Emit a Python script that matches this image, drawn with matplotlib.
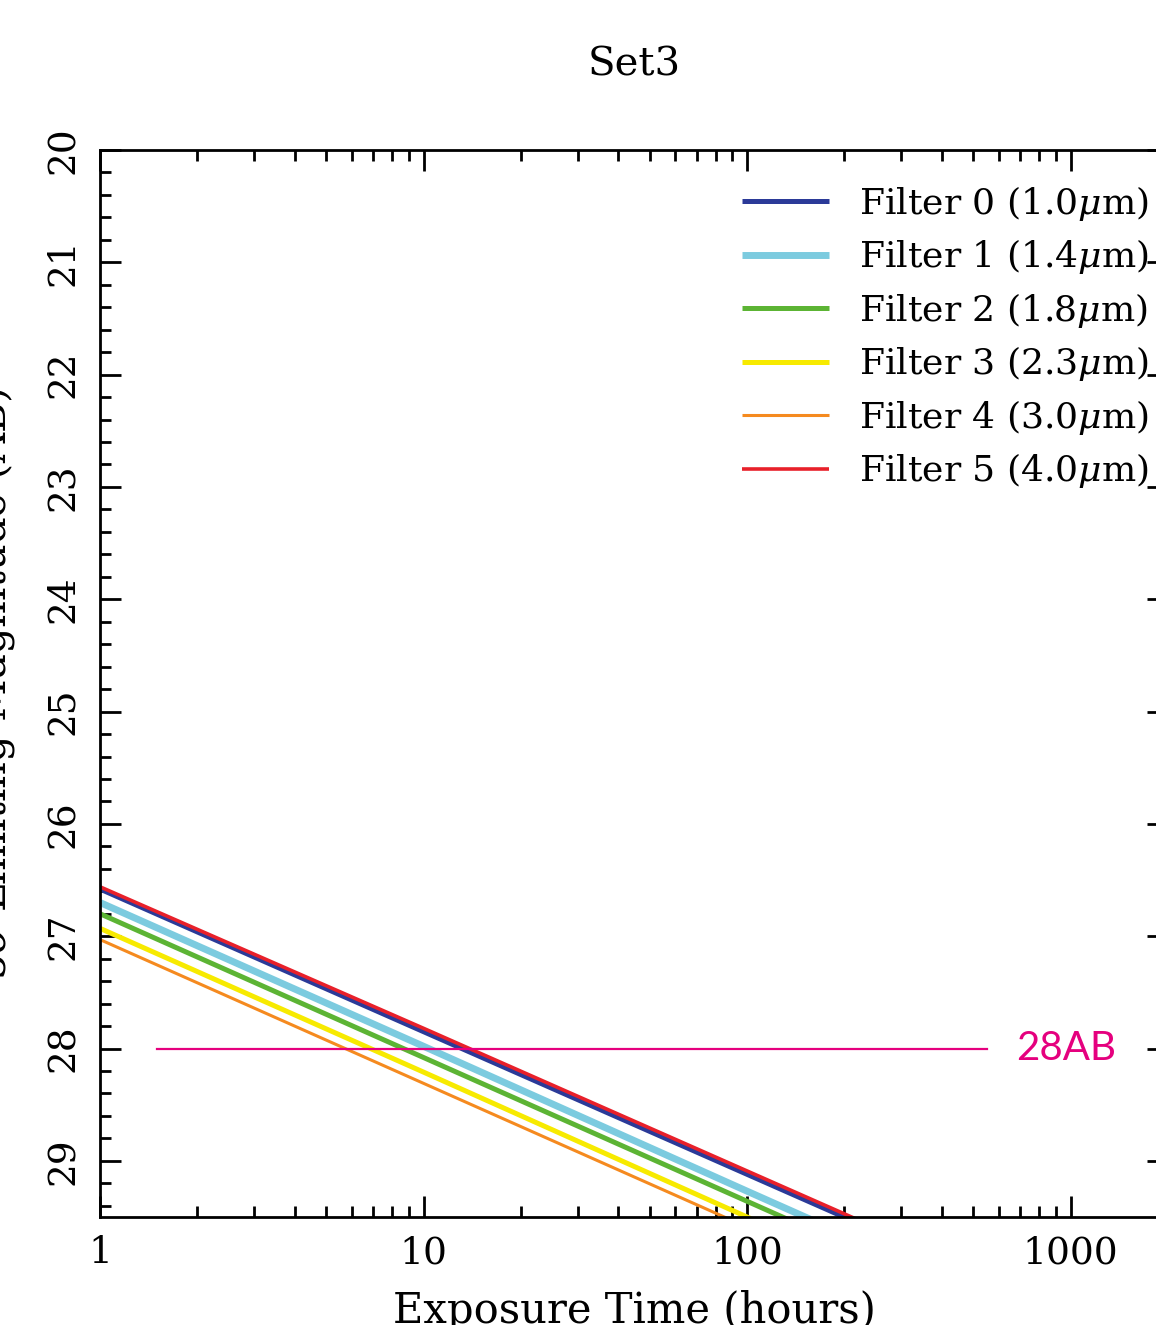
import numpy as np
import matplotlib
matplotlib.use("Agg")
import matplotlib.pyplot as plt
from matplotlib.ticker import FixedLocator, MultipleLocator, NullFormatter

plt.rcParams['font.family'] = 'DejaVu Serif'
plt.rcParams['mathtext.fontset'] = 'dejavuserif'

# ==== データ ====
hours = [1, 10, 100, 1000]
filter_labels = [r"Filter 0 (1.0$\mu$m)", r"Filter 1 (1.4$\mu$m)", r"Filter 2 (1.8$\mu$m)",
                 r"Filter 3 (2.3$\mu$m)", r"Filter 4 (3.0$\mu$m)", r"Filter 5 (4.0$\mu$m)"]
mag_f0 = [26.58, 27.85, 29.12, 30.39]
mag_f1 = [26.70, 27.98, 29.27, 30.55]
mag_f2 = [26.80, 28.08, 29.36, 30.64]
mag_f3 = [26.93, 28.21, 29.50, 30.78]
mag_f4 = [27.03, 28.31, 29.59, 30.87]
mag_f5 = [26.56, 27.82, 29.09, 30.36]
ref_mag = 28.0
ref_range = [1.5, 552]
ref_label = "28AB"
ref_label_x = 680

colors = ["#2b3a98", "#7ccbdf", "#5cb434", "#f7ea00", "#f58a1f", "#e8202a"]
widths = [3.6, 5.0, 3.6, 3.6, 2.2, 2.6]

fig = plt.figure(figsize=(11.56, 13.25), dpi=100)
ax = fig.add_axes([100/1156, 108/1325, 1068/1156, 1067/1325])

series = [mag_f0, mag_f1, mag_f2, mag_f3, mag_f4, mag_f5]
for i, mags in enumerate(series):
    ax.plot(hours, mags, color=colors[i], linewidth=widths[i], label=filter_labels[i],
            solid_capstyle='butt')

ax.plot(ref_range, [ref_mag, ref_mag], color="#e5007e", linewidth=1.6)
ax.text(ref_label_x, ref_mag, ref_label, color="#e5007e", fontsize=29, family='Lato',
        va='center', ha='left')

ax.set_xscale('log')
ax.set_xlim(1, 2000)
ax.set_ylim(29.5, 20)

ax.xaxis.set_major_locator(FixedLocator([1, 10, 100, 1000]))
ax.xaxis.set_minor_locator(FixedLocator([m * d for d in [1, 10, 100, 1000] for m in range(2, 10)]))
ax.xaxis.set_minor_formatter(NullFormatter())
ax.set_xticklabels(["1", "10", "100", "1000"])
ax.yaxis.set_major_locator(MultipleLocator(1))
ax.yaxis.set_minor_locator(MultipleLocator(0.2))

ax.tick_params(which='both', direction='in', top=True, right=True, width=2)
ax.tick_params(which='major', length=15, labelsize=27, pad=13)
ax.tick_params(which='minor', length=8)
for lab in ax.get_yticklabels():
    lab.set_rotation(90)
    lab.set_va('center')
for sp in ax.spines.values():
    sp.set_linewidth(2)

ax.set_xlabel("Exposure Time (hours)", fontsize=30)
ax.xaxis.set_label_coords(0.5, -0.068)
ax.set_ylabel(r"5$\sigma$ Limiting Magnitude (AB)", fontsize=30)
ax.yaxis.set_label_coords(-0.078, 0.5)

ax.set_title("Set3", fontsize=29, pad=54)

ax.legend(loc='upper left', bbox_to_anchor=(742/1156, 1 - 184/1325), bbox_transform=fig.transFigure,
          frameon=False, fontsize=26, handlelength=2.4, handletextpad=0.85, labelspacing=0.4,
          borderpad=0, borderaxespad=0)

fig.savefig("out.png", dpi=100)
